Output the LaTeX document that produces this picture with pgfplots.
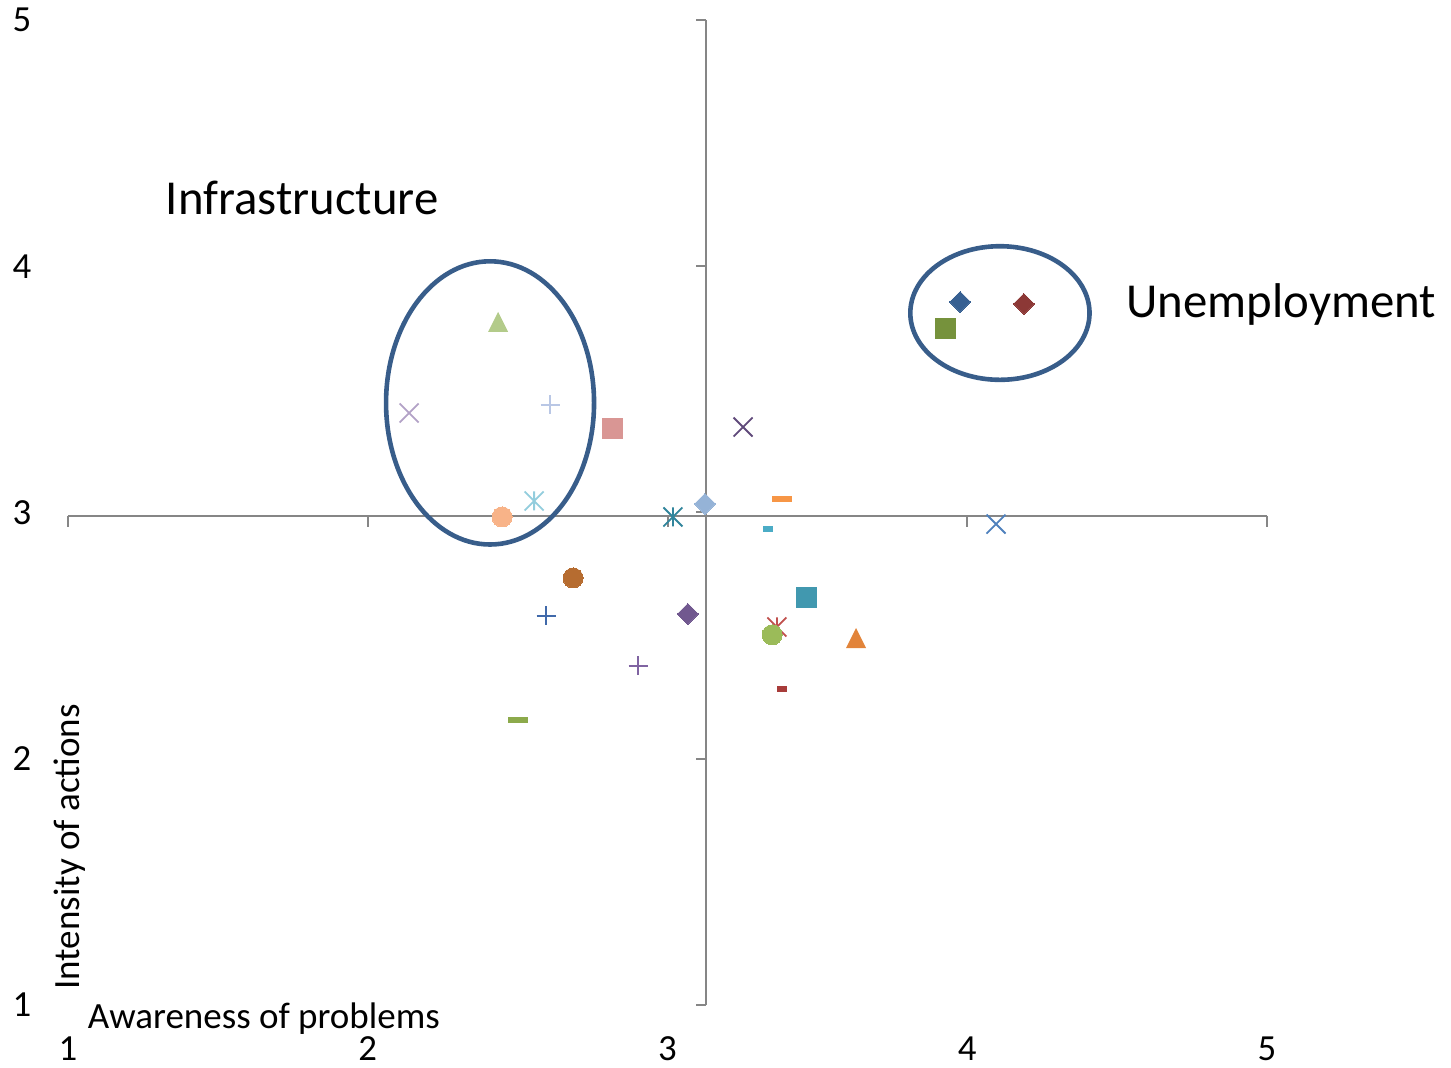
\documentclass[border=0pt]{standalone}
\usepackage{fontspec}
\setmainfont{Carlito}
\usepackage{pgfplots}
\pgfplotsset{compat=1.18}
\definecolor{axgray}{RGB}{134,134,134}
\definecolor{ellc}{RGB}{56,93,138}
\definecolor{c1}{RGB}{55,96,146}
\definecolor{c2}{RGB}{140,56,54}
\definecolor{c3}{RGB}{118,146,60}
\definecolor{c4}{RGB}{179,203,138}
\definecolor{c5}{RGB}{179,162,199}
\definecolor{c6}{RGB}{185,199,229}
\definecolor{c7}{RGB}{217,150,148}
\definecolor{c8}{RGB}{147,205,221}
\definecolor{c9}{RGB}{248,179,136}
\definecolor{c10}{RGB}{96,74,123}
\definecolor{c11}{RGB}{149,179,215}
\definecolor{c12}{RGB}{49,133,156}
\definecolor{c13}{RGB}{247,150,70}
\definecolor{c14}{RGB}{75,172,198}
\definecolor{c15}{RGB}{79,129,189}
\definecolor{c16}{RGB}{182,108,48}
\definecolor{c17}{RGB}{64,105,170}
\definecolor{c18}{RGB}{113,88,143}
\definecolor{c19}{RGB}{128,100,162}
\definecolor{c20}{RGB}{140,170,75}
\definecolor{c21}{RGB}{65,152,175}
\definecolor{c22}{RGB}{192,80,77}
\definecolor{c23}{RGB}{155,187,89}
\definecolor{c24}{RGB}{226,132,58}
\definecolor{c25}{RGB}{168,60,58}
\pgfdeclareplotmark{xmk}{%
  \pgfpathmoveto{\pgfqpoint{-\pgfplotmarksize}{-\pgfplotmarksize}}%
  \pgfpathlineto{\pgfqpoint{\pgfplotmarksize}{\pgfplotmarksize}}%
  \pgfpathmoveto{\pgfqpoint{-\pgfplotmarksize}{\pgfplotmarksize}}%
  \pgfpathlineto{\pgfqpoint{\pgfplotmarksize}{-\pgfplotmarksize}}%
  \pgfusepathqstroke}
\pgfdeclareplotmark{xstar}{%
  \pgfpathmoveto{\pgfqpoint{-\pgfplotmarksize}{-\pgfplotmarksize}}%
  \pgfpathlineto{\pgfqpoint{\pgfplotmarksize}{\pgfplotmarksize}}%
  \pgfpathmoveto{\pgfqpoint{-\pgfplotmarksize}{\pgfplotmarksize}}%
  \pgfpathlineto{\pgfqpoint{\pgfplotmarksize}{-\pgfplotmarksize}}%
  \pgfpathmoveto{\pgfqpoint{0pt}{-\pgfplotmarksize}}%
  \pgfpathlineto{\pgfqpoint{0pt}{\pgfplotmarksize}}%
  \pgfusepathqstroke}
\pgfdeclareplotmark{tri}{%
  \pgfpathmoveto{\pgfqpoint{-\pgfplotmarksize}{-\pgfplotmarksize}}%
  \pgfpathlineto{\pgfqpoint{\pgfplotmarksize}{-\pgfplotmarksize}}%
  \pgfpathlineto{\pgfqpoint{0pt}{\pgfplotmarksize}}%
  \pgfpathclose\pgfusepathqfill}
\pgfdeclareplotmark{dash}{%
  \pgfpathrectangle{\pgfqpoint{-\pgfplotmarksize}{-1.3pt}}{\pgfqpoint{2\pgfplotmarksize}{2.6pt}}%
  \pgfusepathqfill}
\begin{document}
\begin{tikzpicture}
\useasboundingbox (-34pt,-31.5pt) rectangle (691.5pt,502.5pt);
\begin{axis}[
  scale only axis, width=599.5pt, height=492.5pt,
  xmin=1, xmax=5, ymin=1, ymax=5,
  xtick={1,2,3,4,5}, ytick={1,2,3,4,5},
  axis x line*=bottom, axis y line*=left,
  axis line style={draw=none}, tick style={draw=none},
  major tick length=0pt,
  clip=false,
  /pgf/number format/assume math mode=true,
  tick label style={font=\fontsize{18.4}{22}\selectfont, inner sep=0pt},
  xticklabel style={anchor=center, yshift=-21.8pt},
  yticklabel style={anchor=center, xshift=-23pt},
]
% axes crossing
\draw[axgray, line width=1pt] (axis cs:1,2.986) -- (axis cs:5,2.986);
\draw[axgray, line width=1pt] (axis cs:3.128,1) -- (axis cs:3.128,5);
\draw[axgray, line width=1pt] (axis cs:1,2.986) -- ++(0pt,-5.5pt);
\draw[axgray, line width=1pt] (axis cs:2,2.986) -- ++(0pt,-5.5pt);
\draw[axgray, line width=1pt] (axis cs:3,2.986) -- ++(0pt,-5.5pt);
\draw[axgray, line width=1pt] (axis cs:4,2.986) -- ++(0pt,-5.5pt);
\draw[axgray, line width=1pt] (axis cs:5,2.986) -- ++(0pt,-5.5pt);
\draw[axgray, line width=1pt] (axis cs:3.128,1) -- ++(-5pt,0pt);
\draw[axgray, line width=1pt] (axis cs:3.128,2) -- ++(-5pt,0pt);
\draw[axgray, line width=1pt] (axis cs:3.128,3) -- ++(-5pt,0pt);
\draw[axgray, line width=1pt] (axis cs:3.128,4) -- ++(-5pt,0pt);
\draw[axgray, line width=1pt] (axis cs:3.128,5) -- ++(-5pt,0pt);
% series
\addplot[only marks, mark=square*, mark size=3.7pt, mark options={rotate=45, fill=c1, draw=c1, line width=0pt}] coordinates {(3.976,3.855)};
\addplot[only marks, mark=square*, mark size=3.7pt, mark options={rotate=45, fill=c2, draw=c2, line width=0pt}] coordinates {(4.189,3.847)};
\addplot[only marks, mark=square*, mark size=5pt, mark options={fill=c3, draw=c3, line width=0pt}] coordinates {(3.926,3.749)};
\addplot[only marks, mark=tri, mark size=5pt, mark options={fill=c4}] coordinates {(2.435,3.774)};
\addplot[only marks, mark=xmk, mark size=4.75pt, mark options={draw=c5, line width=0.9pt}] coordinates {(2.138,3.404)};
\addplot[only marks, mark=+, mark size=4.75pt, mark options={draw=c6, line width=0.9pt}] coordinates {(2.608,3.437)};
\addplot[only marks, mark=square*, mark size=5pt, mark options={fill=c7, draw=c7, line width=0pt}] coordinates {(2.818,3.343)};
\addplot[only marks, mark=xstar, mark size=4.75pt, mark options={draw=c8, line width=0.9pt}] coordinates {(2.555,3.047)};
\addplot[only marks, mark=*, mark size=5pt, mark options={fill=c9, draw=c9, line width=0pt}] coordinates {(2.448,2.982)};
\addplot[only marks, mark=xmk, mark size=4.75pt, mark options={draw=c10, line width=0.9pt}] coordinates {(3.252,3.347)};
\addplot[only marks, mark=square*, mark size=3.7pt, mark options={rotate=45, fill=c11, draw=c11, line width=0pt}] coordinates {(3.125,3.035)};
\addplot[only marks, mark=xstar, mark size=4.75pt, mark options={draw=c12, line width=0.9pt}] coordinates {(3.018,2.982)};
\addplot[only marks, mark=dash, mark size=5pt, mark options={fill=c13}] coordinates {(3.382,3.055)};
\addplot[only marks, mark=dash, mark size=2.7pt, mark options={fill=c14}] coordinates {(3.335,2.933)};
\addplot[only marks, mark=xmk, mark size=4.75pt, mark options={draw=c15, line width=0.9pt}] coordinates {(4.096,2.953)};
\addplot[only marks, mark=*, mark size=5pt, mark options={fill=c16, draw=c16, line width=0pt}] coordinates {(2.685,2.734)};
\addplot[only marks, mark=+, mark size=4.75pt, mark options={draw=c17, line width=0.9pt}] coordinates {(2.595,2.580)};
\addplot[only marks, mark=square*, mark size=3.7pt, mark options={rotate=45, fill=c18, draw=c18, line width=0pt}] coordinates {(3.068,2.588)};
\addplot[only marks, mark=+, mark size=4.75pt, mark options={draw=c19, line width=0.9pt}] coordinates {(2.902,2.377)};
\addplot[only marks, mark=dash, mark size=5pt, mark options={fill=c20}] coordinates {(2.501,2.157)};
\addplot[only marks, mark=square*, mark size=5pt, mark options={fill=c21, draw=c21, line width=0pt}] coordinates {(3.465,2.653)};
\addplot[only marks, mark=xstar, mark size=4.75pt, mark options={draw=c22, line width=0.9pt}] coordinates {(3.365,2.535)};
\addplot[only marks, mark=*, mark size=5pt, mark options={fill=c23, draw=c23, line width=0pt}] coordinates {(3.349,2.503)};
\addplot[only marks, mark=tri, mark size=5pt, mark options={fill=c24}] coordinates {(3.629,2.490)};
\addplot[only marks, mark=dash, mark size=2.7pt, mark options={fill=c25}] coordinates {(3.382,2.283)};
% ellipses and annotations
\draw[ellc, line width=2.3pt] (axis cs:2.408,3.445) ellipse [x radius=52pt, y radius=70.8pt];
\draw[ellc, line width=2.3pt] (axis cs:4.109,3.810) ellipse [x radius=44.8pt, y radius=33.4pt];
\node[anchor=base west, inner sep=0pt, font=\fontsize{24.4}{28}\selectfont] at (axis cs:1.325,4.212) {Infrastructure};
\node[anchor=base west, inner sep=0pt, font=\fontsize{24.4}{28}\selectfont] at (axis cs:4.530,3.790) {Unemployment};
\node[anchor=base west, inner sep=0pt, font=\fontsize{18.5}{22}\selectfont] at (axis cs:1.065,0.9025) {Awareness of problems};
\node[anchor=base west, inner sep=0pt, rotate=90, font=\fontsize{18.5}{22}\selectfont] at (axis cs:1.037,1.061) {Intensity of actions};
\end{axis}
\end{tikzpicture}
\end{document}
